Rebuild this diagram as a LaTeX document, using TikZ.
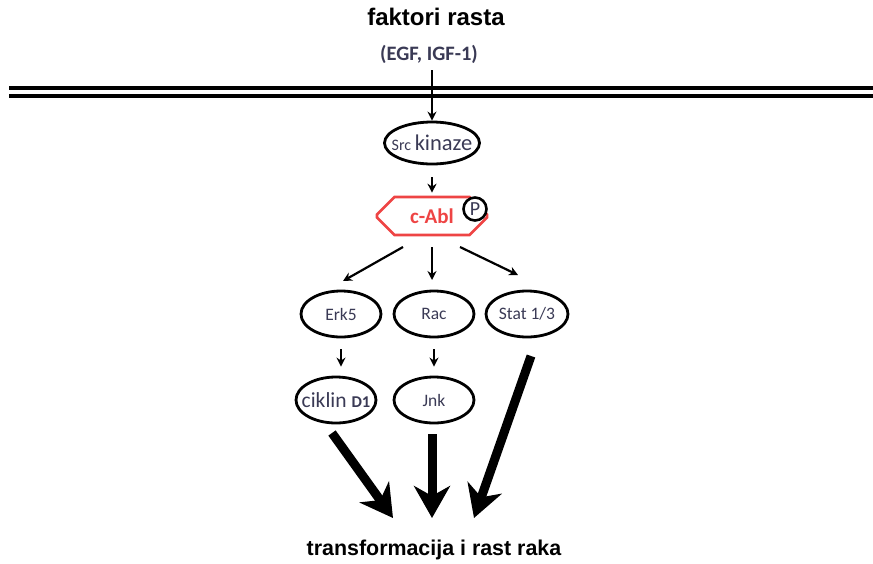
\documentclass[tikz,border=0pt]{standalone}
\usepackage{fontspec}
\setmainfont{Liberation Sans}
\newfontfamily\calibri{Carlito}
\usetikzlibrary{shapes.geometric,shapes.misc,arrows.meta}

\definecolor{txtblue}{HTML}{3A3A55}
\definecolor{ablred}{HTML}{EE4444}

\begin{document}
\begin{tikzpicture}[x=1pt,y=-1pt,
    protein/.style={draw, line width=2.8pt, ellipse, minimum width=80pt, minimum height=46pt, inner sep=0pt, font=\calibri\fontsize{17.5}{19}\selectfont, text=txtblue},
    thinarrow/.style={line width=2.2pt, -{Stealth[length=9pt,width=9pt]}},
    bigarrow/.style={line width=9pt, -{Stealth[length=32pt,width=36pt,inset=10pt]}}]
    \useasboundingbox (0,0) rectangle (873,563);

    % membrana
    \draw[line width=3.4pt] (9,88) -- (873,88);
    \draw[line width=3.4pt] (9,96) -- (873,96);

    \node (title) at (436,17) {\bfseries\fontsize{24}{27}\selectfont faktori rasta};
    \node[text=txtblue] (egf) at (429,54) {\calibri\bfseries\fontsize{20.5}{22}\selectfont (EGF, IGF-1)};
    \coordinate (top) at (432,70);

    \node[protein, minimum width=95pt, minimum height=42pt, inner xsep=-12pt, inner ysep=-6pt] (src) at (432,143)
        {\fontsize{16}{18}\selectfont Src \fontsize{22.5}{24}\selectfont kinaze};

    \node[draw=ablred, line width=2.6pt, chamfered rectangle, chamfered rectangle xsep=9pt, chamfered rectangle ysep=10pt,
        minimum width=110pt, minimum height=38pt, inner sep=0pt, text=ablred] (abl) at (432,216)
        {\calibri\bfseries\fontsize{21}{23}\selectfont c-Abl};
    \node[draw, fill=white, circle, line width=2.6pt, minimum size=23pt, inner sep=0pt, text=txtblue] (p) at (475,209)
        {\calibri\fontsize{20}{22}\selectfont P};

    \node[protein] (erk) at (341,314) {Erk5};
    \node[protein] (rac) at (434,314) {Rac};
    \node[protein, minimum width=82pt] (stat) at (527,314) {Stat 1/3};

    \node[protein, inner xsep=-10pt, inner ysep=-6pt] (cik) at (336,400)
        {\fontsize{21.5}{23}\selectfont ciklin \bfseries\fontsize{16.5}{18}\selectfont D1};
    \node[protein] (jnk) at (434,400) {Jnk};

    \node (rak) at (434,550) {\bfseries\fontsize{21.4}{24}\selectfont transformacija i rast raka};

    % strelice
    \draw[thinarrow] (top) -- (src);
    \draw[thinarrow, shorten <=12pt, shorten >=3pt] (src) -- (abl);
    \draw[thinarrow] (abl) ++(-29,31) -- ++(-60,34);
    \draw[thinarrow] (abl) ++(0,31) -- ++(0,33);
    \draw[thinarrow] (abl) ++(28,31) -- ++(58,28);
    \draw[thinarrow, shorten <=11pt, shorten >=9pt] (erk) -- (cik.north -| erk);
    \draw[thinarrow, shorten <=11pt, shorten >=9pt] (rac) -- (jnk);

    \coordinate (t1) at (393,518);
    \coordinate (t2) at (432,518);
    \coordinate (t3) at (474,518);
    \draw[bigarrow] (332,433) -- (t1);
    \draw[bigarrow] (432,434) -- (t2);
    \draw[bigarrow] (531,356) -- (t3);
\end{tikzpicture}
\end{document}
